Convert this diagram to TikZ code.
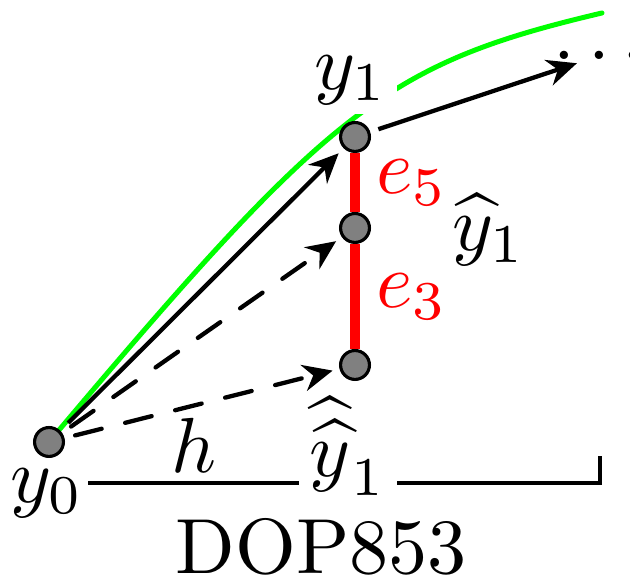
\documentclass[tikz,border=0pt]{standalone}
\usepackage{tikz}
\usetikzlibrary{positioning, arrows.meta, backgrounds}
\usepackage{amsmath,amssymb}

\begin{document}
\begin{tikzpicture}[
        x=0.128pt, y=-0.128pt,
        sol/.style={circle, draw=black, fill=gray, line width=0.4pt, minimum size=3.7pt, inner sep=0pt},
        lbl/.style={inner sep=1.2pt},
        arr/.style={-{Stealth[length=3.8pt, width=3.4pt]}, line width=0.55pt, shorten >=0.9pt, shorten <=1.4pt},
        darr/.style={arr, line cap=round, dash pattern=on 3.5pt off 3.1pt},
        err/.style={draw=red, line width=1.4pt}
    ]
        \useasboundingbox (0,0) rectangle (630,581);

        \node[sol] (y0) at (49,442) {};
        \node[sol] (y1) at (355,137) {};
        \node[sol] (y5) at (355,228) {};
        \node[sol] (y3) at (355,365) {};

        % exact solution
        \begin{scope}[on background layer]
            \draw[green, line width=0.64pt, line cap=round] (y0.center) .. controls (331,107) and (386,64) .. (602,13);
        \end{scope}

        \node[lbl, fill=white] (y1lab) at (351,80) {$y_1$};
        \node[lbl] (y1hat) at (489,230) {$\widehat{y}_1$};
        \node[lbl, inner sep=0.4pt] (y0lab) at (47,493) {$y_0$};
        \node[lbl] (y1hh) at (348,446) {$\widehat{\widehat{y}}_1$};
        \node[inner sep=0pt, anchor=base west] (dots) at (552,60) {$.\,.\,.$};

        % error estimates
        \draw[err] (y1) -- node[lbl, right=0.8pt, red] (e5) {$e_5$} (y5);
        \draw[err] (y5) -- node[lbl, right=0.8pt, red] (e3) {$e_3$} (y3);

        \draw[arr] (y0) -- (y1);
        \draw[darr] (y0) -- (y5);
        \draw[darr] (y0) -- (y3);
        \draw[arr, shorten >=3pt, shorten <=1.1pt] (y1) -- (dots.center);

        % step size axis
        \coordinate (corner) at (600,483);
        \coordinate (tickend) at (600,456);
        \draw[line width=0.4pt] (y0lab.east |- corner) -- node[lbl, above] (h) {$h$} (y1hh.west |- corner);
        \draw[line width=0.4pt] (y1hh.east |- corner) -- (corner) -- (tickend);

        \node (method) at (321,547) {DOP853};
    \end{tikzpicture}
\end{document}
